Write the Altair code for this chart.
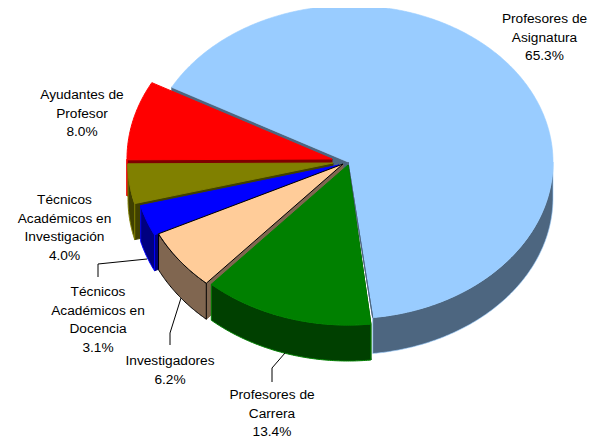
import math
import altair as alt

categories = ["Profesores de Asignatura", "Profesores de Carrera", "Investigadores",
              "Técnicos Académicos en Docencia", "Técnicos Académicos en Investigación",
              "Ayudantes de Profesor"]
values = [65.3, 13.4, 6.2, 3.1, 4.0, 8.0]

label_lines = [["Profesores de", "Asignatura"], ["Profesores de", "Carrera"], ["Investigadores"],
               ["Técnicos", "Académicos en", "Docencia"], ["Técnicos", "Académicos en", "Investigación"],
               ["Ayudantes de", "Profesor"]]

# Layout (page pixels)
START_ANGLE = 298.5
DEPTH = 36.0
radii = [(203, 156.5), (205, 160), (205, 160), (205, 160), (205, 160), (205, 160)]
apexes = [(348, 162), (348, 165), (343, 164), (339, 165), (333, 163), (332, 159)]
centers = [(350, 162), (348, 165), (343, 164), (339, 165), (333, 163), (332, 159)]
top_colors = ["#99CCFF", "#008000", "#FFCC99", "#0000FF", "#808000", "#FF0000"]
side_colors = ["#4D6680", "#004000", "#806650", "#000080", "#404000", "#800000"]
edge_colors = ["#99CCFF", "#008000", "#000000", "#0000FF", "#808000", "#FF0000"]
top_edges = ["#99CCFF", "#008000", "#000000", "#0000FF", "#808000", "#FF0000"]
widths = [0.6, 1, 1, 1, 1, 1]
draw_order = [0, 5, 4, 3, 2, 1]
label_anchor = [(544.5, 23), (272, 399), (170, 365), (98, 296), (64.5, 204), (82, 99)]
leaders = [[(285, 353), (272, 368), (272, 382)],
           [(181, 298), (170, 333), (170, 345)],
           [(147, 259), (98, 264), (98, 277)]]


def pt(i, a, drop=0.0):
    r = math.radians(a)
    return [centers[i][0] + radii[i][0] * math.sin(r), centers[i][1] - radii[i][1] * math.cos(r) + drop]


def arc(i, a, b, drop=0.0):
    n = max(2, int(abs(b - a) * 2))
    return [pt(i, a + (b - a) * k / n, drop) for k in range(n + 1)]


def feat(points, fill, stroke, width):
    ring = [list(p) for p in points] + [list(points[0])]
    return {"type": "Feature", "geometry": {"type": "Polygon", "coordinates": [ring]},
            "properties": {"fill": fill, "stroke": stroke, "w": width}}


spans = []
angle = START_ANGLE
for v in values:
    spans.append((angle, angle + v * 3.6))
    angle += v * 3.6

features = []
for i in draw_order:
    a, b = spans[i]
    ap = apexes[i]
    wl = widths[i]
    # cut face at the start angle
    o = pt(i, a)
    od = pt(i, a, DEPTH)
    features.append(feat([list(ap), o, od, [ap[0], ap[1] + DEPTH]], side_colors[i], side_colors[i], wl))
    # outer wall, the part that faces the viewer (angles 90..270, mod 360)
    if i == 0:
        lo, hi = 450, b
    else:
        lo, hi = max(a - 360, 90), min(b - 360, 270)
    if hi > lo:
        upper = arc(i, lo, hi)
        lower = arc(i, lo, hi, DEPTH)
        features.append(feat(upper + lower[::-1], side_colors[i], edge_colors[i], wl))
    # top surface
    features.append(feat([list(ap)] + arc(i, a, b), top_colors[i], top_edges[i], wl))
    if i == 0:
        # slate seam along the closing edge of the largest slice
        features.append(feat([list(ap), pt(i, b)], side_colors[i], side_colors[i], 1))

shapes = alt.Chart(alt.Data(values=features)).mark_geoshape().encode(
    fill=alt.Fill("properties.fill:N", scale=None),
    stroke=alt.Stroke("properties.stroke:N", scale=None),
    strokeWidth=alt.StrokeWidth("properties.w:Q", scale=None),
).project(type="identity", scale=1, translate=[-8, -8])

x_scale = alt.Scale(domain=[8, 589], nice=False, zero=False)
y_scale = alt.Scale(domain=[434, 8], nice=False, zero=False)

leader_rows = [{"x": p[0], "y": p[1], "g": g, "o": k}
               for g, line in enumerate(leaders) for k, p in enumerate(line)]
leader_chart = alt.Chart(alt.Data(values=leader_rows)).mark_line(color="black", strokeWidth=1).encode(
    x=alt.X("x:Q", scale=x_scale, axis=None),
    y=alt.Y("y:Q", scale=y_scale, axis=None),
    detail="g:N", order="o:Q")

text_rows = [{"x": label_anchor[i][0], "y": label_anchor[i][1],
              "t": "\n".join(label_lines[i] + [f"{values[i]:.1f}%"])} for i in range(len(values))]
labels = alt.Chart(alt.Data(values=text_rows)).mark_text(
    font="Liberation Sans", fontSize=13.7, align="center", baseline="alphabetic",
    lineBreak="\n", lineHeight=18.5, color="black").encode(
    x=alt.X("x:Q", scale=x_scale, axis=None),
    y=alt.Y("y:Q", scale=y_scale, axis=None),
    text="t:N")

chart = alt.layer(shapes, leader_chart, labels).properties(
    width=581, height=426, padding=0, background="white"
).configure_view(stroke=None)

chart.save("out.html", embed_options={"renderer": "svg", "actions": False})
